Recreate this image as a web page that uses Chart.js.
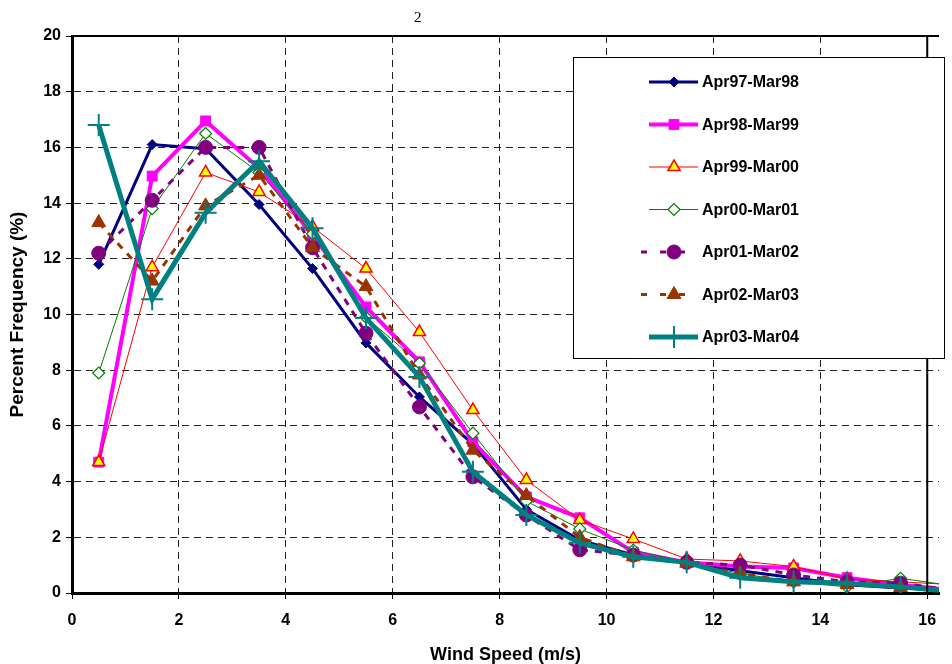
<!DOCTYPE html>
<html>
<head>
<meta charset="utf-8">
<script src="https://cdn.jsdelivr.net/npm/chart.js@4/dist/chart.umd.min.js"></script>
<style>
  html, body { margin: 0; padding: 0; background: #fff; }
  #wrap { position: relative; width: 952px; height: 664px; }
  #pageNo { position: absolute; left: 414px; top: 9px; font: 15px "Liberation Serif", serif; color: #000; }
</style>
</head>
<body>
<div id="wrap">
  <canvas id="windChart" width="952" height="664"></canvas>
  <div id="pageNo">2</div>
</div>
<script>
// wind speed bin mid-points (m/s)
const X_MIDS = [0.5, 1.5, 2.5, 3.5, 4.5, 5.5, 6.5, 7.5, 8.5, 9.5, 10.5, 11.5, 12.5, 13.5, 14.5, 15.5, 16.5];
const X_TICKS = [0, 2, 4, 6, 8, 10, 12, 14, 16];
const Y_TICKS = [0, 2, 4, 6, 8, 10, 12, 14, 16, 18, 20];

const SERIES_NAMES = ['Apr97-Mar98', 'Apr98-Mar99', 'Apr99-Mar00', 'Apr00-Mar01', 'Apr01-Mar02', 'Apr02-Mar03', 'Apr03-Mar04'];

// percent frequency per bin
const APR97_MAR98 = [11.8, 16.1, 15.95, 13.95, 11.65, 8.98, 7.04, 5.35, 3.0, 1.9, 1.37, 1.1, 0.8, 0.55, 0.3, 0.18, 0.1];
const APR98_MAR99 = [4.7, 14.97, 16.95, 15.25, 12.85, 10.27, 8.3, 5.43, 3.45, 2.7, 1.47, 1.1, 0.95, 0.9, 0.55, 0.3, 0.1];
const APR99_MAR00 = [4.7, 11.7, 15.1, 14.4, 13.15, 11.65, 9.37, 6.57, 4.06, 2.62, 1.94, 1.22, 1.15, 0.95, 0.5, 0.4, 0.3];
const APR00_MAR01 = [7.9, 13.8, 16.5, 15.1, 12.9, 9.9, 8.25, 5.74, 3.3, 2.3, 1.54, 1.1, 0.7, 0.4, 0.22, 0.53, 0.25];
const APR01_MAR02 = [12.2, 14.1, 16.0, 16.0, 12.4, 9.33, 6.68, 4.17, 2.8, 1.55, 1.36, 1.1, 1.0, 0.65, 0.4, 0.35, 0.1];
const APR02_MAR03 = [13.3, 11.2, 13.9, 15.0, 12.4, 11.0, 7.83, 5.13, 3.5, 2.0, 1.3, 1.07, 0.7, 0.4, 0.3, 0.2, 0.1];
const APR03_MAR04 = [16.8, 10.55, 13.65, 15.5, 13.1, 9.87, 7.76, 4.35, 2.8, 1.8, 1.3, 1.1, 0.55, 0.4, 0.35, 0.22, 0.05];

const SERIES_VALUES = [APR97_MAR98, APR98_MAR99, APR99_MAR00, APR00_MAR01, APR01_MAR02, APR02_MAR03, APR03_MAR04];

// line / marker look for each series (Excel style)
const STYLES = [
    { line: '#000080', width: 3, dash: [], point: 'rectRot', r: 5, fill: '#000080', edge: '#000080', bw: 1 },
    { line: '#FF00FF', width: 4, dash: [], point: 'rect', r: 7, fill: '#FF00FF', edge: '#FF00FF', bw: 1 },
    { line: '#FF0000', width: 1, dash: [], point: 'triangle', r: 7, fill: '#FFFF00', edge: '#FF0000', bw: 1.5 },
    { line: '#008000', width: 1, dash: [], point: 'rectRot', r: 6, fill: '#FFFFFF', edge: '#008000', bw: 1.2 },
    { line: '#800080', width: 3, dash: [7, 7], point: 'circle', r: 7, fill: '#800080', edge: '#800080', bw: 1 },
    { line: '#993300', width: 3, dash: [7, 7], point: 'triangle', r: 8, fill: '#993300', edge: '#993300', bw: 1 },
    { line: '#008080', width: 5, dash: [], point: 'cross', r: 11, fill: '#008080', edge: '#008080', bw: 2 }
];

const FONT = '"Liberation Sans", Arial, sans-serif';
const X_MAX = 16.22;

const datasets = SERIES_NAMES.map((name, i) => {
    const s = STYLES[i];
    return {
        label: name,
        data: X_MIDS.map((x, k) => ({ x: x, y: SERIES_VALUES[i][k] })),
        borderColor: s.line,
        borderWidth: s.width,
        borderDash: s.dash,
        pointStyle: s.point,
        pointRadius: s.r,
        pointHoverRadius: s.r,
        pointBackgroundColor: s.fill,
        pointBorderColor: s.edge,
        pointBorderWidth: s.bw,
        backgroundColor: s.fill,
        tension: 0,
        fill: false,
        order: SERIES_NAMES.length - i
    };
});

// frame: top edge and solid line at x=16
const framePlugin = {
    id: 'frame',
    afterDatasetsDraw(chart) {
        const { ctx, chartArea, scales } = chart;
        const x16 = scales.x.getPixelForValue(16);
        const yTop = scales.y.getPixelForValue(20);
        ctx.save();
        ctx.strokeStyle = '#000';
        ctx.lineWidth = 2;
        ctx.beginPath();
        ctx.moveTo(chartArea.left, yTop);
        ctx.lineTo(chartArea.right, yTop);
        ctx.moveTo(x16, chartArea.top);
        ctx.lineTo(x16, chartArea.bottom);
        ctx.stroke();
        ctx.restore();
    }
};

// boxed legend inside the plot, like the spreadsheet original
const boxLegend = {
    id: 'boxLegend',
    afterDraw(chart) {
        const { ctx } = chart;
        const box = { left: 573, top: 57, right: 944, bottom: 358 };
        ctx.save();
        ctx.fillStyle = '#fff';
        ctx.fillRect(box.left, box.top, box.right - box.left, box.bottom - box.top);
        ctx.strokeStyle = '#000';
        ctx.lineWidth = 1;
        ctx.strokeRect(box.left + 0.5, box.top + 0.5, box.right - box.left, box.bottom - box.top);
        chart.data.datasets.forEach((ds, i) => {
            const s = STYLES[i];
            const y = 82 + i * 42.5;
            ctx.strokeStyle = s.line;
            ctx.lineWidth = s.width;
            ctx.setLineDash(s.dash.length ? [6, 13] : []);
            ctx.beginPath();
            ctx.moveTo(s.dash.length ? 641 : 649, y);
            ctx.lineTo(698, y);
            ctx.stroke();
            ctx.setLineDash([]);
            ctx.fillStyle = s.fill;
            ctx.strokeStyle = s.edge;
            ctx.lineWidth = s.bw;
            Chart.helpers.drawPoint(ctx, { pointStyle: s.point, radius: s.r, rotation: 0, borderWidth: s.bw }, 674, y);
            ctx.fillStyle = '#000';
            ctx.font = 'bold 16px ' + FONT;
            ctx.textBaseline = 'middle';
            ctx.textAlign = 'left';
            ctx.fillText(ds.label, 702, y + 1);
        });
        ctx.restore();
    }
};

new Chart(document.getElementById('windChart'), {
    type: 'line',
    data: { datasets: datasets },
    options: {
        responsive: false,
        animation: false,
        events: [],
        layout: { padding: { top: 36, right: 0, bottom: 0, left: 0 } },
        plugins: {
            legend: { display: false },
            tooltip: { enabled: false }
        },
        scales: {
            x: {
                type: 'linear',
                min: 0,
                max: X_MAX,
                afterBuildTicks: (scale) => { scale.ticks = X_TICKS.map(v => ({ value: v })); },
                afterFit: (scale) => { scale.height = 71; },
                ticks: {
                    color: '#000',
                    font: { family: FONT, size: 16, weight: 'bold' },
                    padding: 12,
                    maxRotation: 0
                },
                grid: {
                    color: (c) => (c.tick && (c.tick.value === 0 || c.tick.value === 16)) ? 'rgba(0,0,0,0)' : '#222',
                    lineWidth: 1,
                    tickLength: 6,
                    tickColor: '#000',
                    tickWidth: 1
                },
                border: { color: '#000', width: 3, dash: [7, 5] },
                title: {
                    display: true,
                    text: 'Wind Speed (m/s)',
                    color: '#000',
                    font: { family: FONT, size: 18, weight: 'bold', lineHeight: 1 },
                    padding: { top: 0, bottom: 0 }
                }
            },
            y: {
                min: 0,
                max: 20,
                afterBuildTicks: (scale) => { scale.ticks = Y_TICKS.map(v => ({ value: v })); },
                afterFit: (scale) => { scale.width = 72; },
                ticks: {
                    color: '#000',
                    font: { family: FONT, size: 16, weight: 'bold' },
                    padding: 5
                },
                grid: {
                    color: (c) => (c.tick && (c.tick.value === 0 || c.tick.value === 20)) ? 'rgba(0,0,0,0)' : '#222',
                    lineWidth: 1,
                    tickLength: 6,
                    tickColor: '#000',
                    tickWidth: 1
                },
                border: { color: '#000', width: 3, dash: [7, 5] },
                title: {
                    display: true,
                    text: 'Percent Frequency (%)',
                    color: '#000',
                    font: { family: FONT, size: 19, weight: 'bold', lineHeight: 1 },
                    padding: { top: 8.5, bottom: 0 }
                }
            }
        }
    },
    plugins: [framePlugin, boxLegend]
});
</script>
</body>
</html>
